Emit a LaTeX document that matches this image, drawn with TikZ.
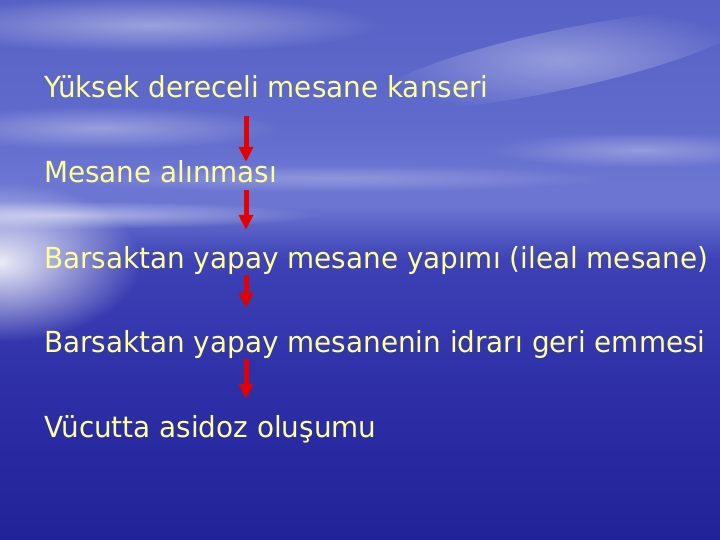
\documentclass[tikz,border=0pt]{standalone}
\usepackage{fontspec}
\setmainfont[FakeStretch=0.96]{DejaVu Sans}
\usetikzlibrary{positioning,arrows.meta,fadings}

\definecolor{textyel}{RGB}{255,255,153}
\definecolor{arrred}{RGB}{228,0,0}
\definecolor{seabot}{RGB}{34,34,152}
\definecolor{seamid}{RGB}{46,48,168}
\definecolor{sealow}{RGB}{62,66,182}
\definecolor{horizon}{RGB}{108,118,210}
\definecolor{skylow}{RGB}{96,106,204}
\definecolor{skytop}{RGB}{88,98,198}

\pgfdeclareverticalshading{seasky}{100bp}{color(0bp)=(seabot); color(25bp)=(seabot); color(40bp)=(seamid); color(51bp)=(sealow); color(56bp)=(horizon); color(58bp)=(horizon); color(64bp)=(skylow); color(75bp)=(skytop); color(100bp)=(skytop)}
\tikzfading[name=soft glow,inner color=transparent!0,outer color=transparent!100]

\begin{document}
\begin{tikzpicture}[x=1pt,y=-1pt,node distance=85pt,
    step node/.style={inner sep=0pt,text=textyel,text height=21pt,text depth=7pt,
      font=\fontsize{29}{34}\selectfont},
    flow/.style={-{Triangle[length=15pt,width=14pt]},line width=5pt,draw=arrred}]
  \useasboundingbox (0,0) rectangle (720,540);

  % background: sky and sea
  \shade[shading=seasky] (0,0) rectangle (720,540);
  \fill[white,opacity=0.9,path fading=soft glow] (0,262) ellipse (140 and 80);
  \fill[white,opacity=0.5,path fading=soft glow] (60,215) ellipse (260 and 14);
  \fill[white,opacity=0.4,path fading=soft glow] (150,25) ellipse (230 and 28);
  \fill[white,opacity=0.35,path fading=soft glow,rotate around={12:(560,60)}] (560,60) ellipse (190 and 30);
  \fill[white,opacity=0.35,path fading=soft glow] (100,128) ellipse (180 and 22);
  \fill[white,opacity=0.3,path fading=soft glow] (640,150) ellipse (150 and 18);
  \fill[white,opacity=0.25,path fading=soft glow] (330,178) ellipse (280 and 14);

  \node[step node,anchor=base west] (1) at (44,98) {Yüksek dereceli mesane kanseri};
  \node[step node,below=85pt of 1.base west,anchor=base west] (2) {Mesane alınması};
  \node[step node,below=85pt of 2.base west,anchor=base west] (3) {Barsaktan yapay mesane yapımı (ileal mesane)};
  \node[step node,below=84pt of 3.base west,anchor=base west] (4) {Barsaktan yapay mesanenin idrarı geri emmesi};
  \node[step node,below=85pt of 4.base west,anchor=base west] (5) {Vücutta asidoz oluşumu};

  \coordinate (ax) at (246,0);

  \draw[flow,shorten <=11pt] (1.south -| ax) -- (2.north -| ax);
  \draw[flow,shorten >=17pt] (2.south -| ax) -- (3.north -| ax);
  \draw[flow,shorten >=23pt] (3.south -| ax) -- (4.north -| ax);
  \draw[flow,shorten >=17pt] (4.south -| ax) -- (5.north -| ax);
\end{tikzpicture}
\end{document}
